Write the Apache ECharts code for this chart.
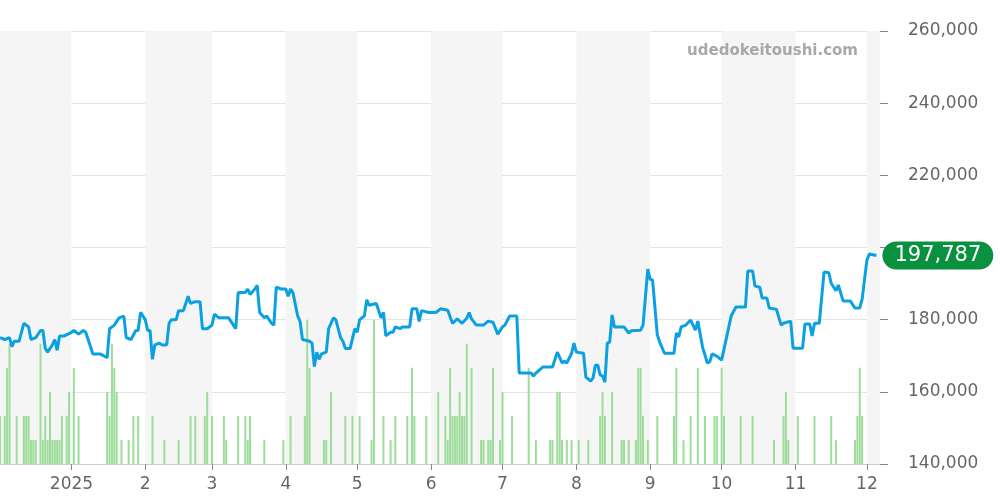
<!DOCTYPE html>
<html lang="ja">
<head>
    <meta charset="UTF-8">
    <script src="https://cdn.jsdelivr.net/npm/echarts@6/dist/echarts.min.js"></script>
    <style>
        body { margin: 0; background: #fff; }
        #main { width: 1000px; height: 500px; }
    </style>
</head>
<body>
<div id="main"></div>
<script>
    // 日付は 2025-01-01 からの経過日数
    var priceDays = [-30,-28,-26,-25,-24,-22,-20,-18,-17,-15,-13,-12,-11,-10,-8,-7,-6,-5,-3,0,1,3,5,6,9,12,15,16,18,20,22,23,25,27,28,29,31,32,33,34,35,37,38,40,41,42,44,45,47,49,50,52,54,55,57,59,60,62,66,69,70,73,74,75,77,78,79,81,82,84,85,86,88,90,91,92,93,95,96,97,100,101,102,103,104,105,107,108,110,111,113,114,115,117,119,120,121,123,124,125,128,130,131,132,134,135,136,138,139,142,143,145,146,147,150,153,155,158,160,162,164,166,167,168,170,173,175,177,179,181,182,184,187,188,193,194,195,198,202,204,206,207,208,210,211,212,215,216,218,219,220,221,222,223,224,225,226,227,228,232,234,235,239,240,242,243,244,246,247,249,253,254,255,256,258,260,262,263,265,267,268,269,271,273,275,277,279,283,284,286,287,289,290,292,293,296,298,299,302,303,307,308,310,311,312,314,316,318,319,321,322,324,327,329,331,332,334,335,338];
    var priceValues = [175000,174500,175000,172500,174000,174000,179000,178000,174500,175000,177000,177000,172000,171000,173000,174500,171500,175500,175500,176500,177000,176000,177000,176500,170500,170500,169500,177500,178500,180500,181000,175000,174500,177000,177000,182000,180000,177000,177000,169000,173000,173500,173000,173000,179000,180000,180000,182500,182500,186500,184500,185000,185000,177500,177500,178500,181500,180500,180500,177500,187500,187500,188500,187000,188500,189500,182000,180500,181000,179000,178500,189000,188500,188500,186500,188500,187500,181000,179500,174500,174000,173500,167000,171000,169000,170500,171000,177500,180500,180000,175000,174000,172000,172000,177500,176500,180000,181000,185500,184000,184500,180500,182000,175500,176500,176500,178000,177500,178000,178000,183000,183000,179500,182500,182000,182000,183000,182600,179000,180200,179000,180400,182000,180200,178500,178500,179600,179300,176000,178000,178500,181000,181000,165200,165200,164400,165200,166900,166900,171000,168000,168500,168000,170700,173500,171000,170700,164100,163000,163800,167400,167400,164700,164400,162700,173500,173800,181300,178000,178000,176300,176900,177100,178500,194000,191200,191000,175800,173800,170700,170700,176300,175200,178000,178500,179900,177100,179600,172400,168000,168300,170500,169900,168800,174900,181000,183500,183500,193500,193500,189300,189000,186000,186000,183200,182900,178500,179000,179600,172100,172100,178800,178800,175500,179000,179000,193200,193000,190100,188000,189600,185200,185200,183200,183200,185700,196500,198200,197787];

    var volumeDays = [-30,-28,-27,-26,-23,-20,-19,-18,-17,-16,-15,-13,-12,-11,-10,-9,-8,-7,-6,-5,-4,-2,-1,1,3,15,16,17,18,19,21,24,26,28,34,39,45,50,52,56,57,59,64,65,70,73,74,75,81,89,92,98,99,100,106,107,109,115,118,121,126,127,131,134,136,141,143,144,149,154,157,158,159,160,161,162,163,164,165,166,168,172,173,175,176,177,180,181,185,192,195,201,202,204,205,206,208,210,213,217,222,223,224,227,231,232,234,237,238,239,240,242,246,253,254,257,260,263,266,270,271,273,274,281,286,295,299,300,301,305,312,319,321,329,330,331,332];
    var volumeValues = [2,2,4,5,2,2,2,2,1,1,1,5,1,2,1,3,1,1,1,1,2,2,3,4,2,3,2,5,4,3,1,1,2,2,2,1,1,2,2,2,3,2,2,1,2,2,1,2,1,1,2,2,6,4,1,1,3,2,2,2,1,6,2,1,2,2,4,2,2,3,2,1,4,2,2,2,3,2,2,5,4,1,1,1,1,4,1,3,2,4,1,1,1,3,3,1,1,1,1,1,2,3,2,3,1,1,1,1,4,4,2,1,2,2,4,1,2,4,2,2,2,4,2,2,2,1,2,3,1,2,2,2,1,1,2,4,2,4];

    var monthStarts = [0,31,59,90,120,151,181,212,243,273,304,334];
    var monthLabels = ['2025','2','3','4','5','6','7','8','9','10','11','12'];
    var shadedMonths = [[-30,0],[31,59],[90,120],[151,181],[212,243],[273,304],[334,339.5]];

    var priceData = priceDays.map(function (d, i) { return [d, priceValues[i]]; });
    var volumeData = volumeDays.map(function (d, i) { return [d, volumeValues[i]]; });
    var lastPrice = priceValues[priceValues.length - 1];

    var chart = echarts.init(document.getElementById('main'));
    chart.setOption({
        animation: false,
        grid: { left: 0, right: 120, top: 31, bottom: 36 },
        graphic: [{
            type: 'text', right: 142, top: 44, z: 100,
            style: { text: 'udedokeitoushi.com', fill: '#a8a8a8', font: 'bold 15px "DejaVu Sans"' }
        }],
        xAxis: {
            type: 'value', min: -30, max: 339.5,
            splitLine: { show: false },
            axisLine: { show: true, onZero: false, lineStyle: { color: '#cccccc' } },
            axisTick: { show: true, customValues: monthStarts, length: 6, lineStyle: { color: '#888' } },
            axisLabel: {
                customValues: monthStarts, color: '#666', fontSize: 17, margin: 12,
                fontFamily: 'DejaVu Sans',
                formatter: function (v) { return monthLabels[monthStarts.indexOf(v)]; }
            }
        },
        yAxis: [{
            type: 'value', position: 'right', min: 140000, max: 260000, interval: 20000,
            axisLine: { show: false, onZero: false },
            axisTick: { show: true, length: 8, lineStyle: { color: '#888' } },
            axisLabel: {
                color: '#666', fontSize: 17, margin: 28, fontFamily: 'DejaVu Sans',
                // 現在値タグに隠れる目盛りは表示しない
                formatter: function (v) {
                    return Math.abs(v - lastPrice) < 6000 ? '' : v.toLocaleString('en-US');
                }
            },
            splitLine: { lineStyle: { color: '#e4e4e4' } }
        }, {
            type: 'value', min: 0, max: 18, show: false, splitLine: { show: false },
            axisLine: { onZero: false }
        }],
        series: [{
            type: 'bar', yAxisIndex: 1, data: volumeData, barWidth: 2,
            itemStyle: { color: '#9ddc9a' },
            markArea: {
                silent: true,
                itemStyle: { color: '#f5f5f5' },
                data: shadedMonths.map(function (m) { return [{ xAxis: m[0] }, { xAxis: m[1] }]; })
            },
            z: 1
        }, {
            type: 'line', data: priceData, showSymbol: false, zlevel: 1,
            lineStyle: { color: '#0aa0e2', width: 3 },
            endLabel: {
                show: true, distance: 6,
                formatter: function (p) { return p.value[1].toLocaleString('en-US'); },
                backgroundColor: '#0a9140', color: '#fff', fontSize: 21,
                fontFamily: 'DejaVu Sans', borderRadius: 15, padding: [4, 12, 3, 12]
            }
        }]
    });
</script>
</body>
</html>
